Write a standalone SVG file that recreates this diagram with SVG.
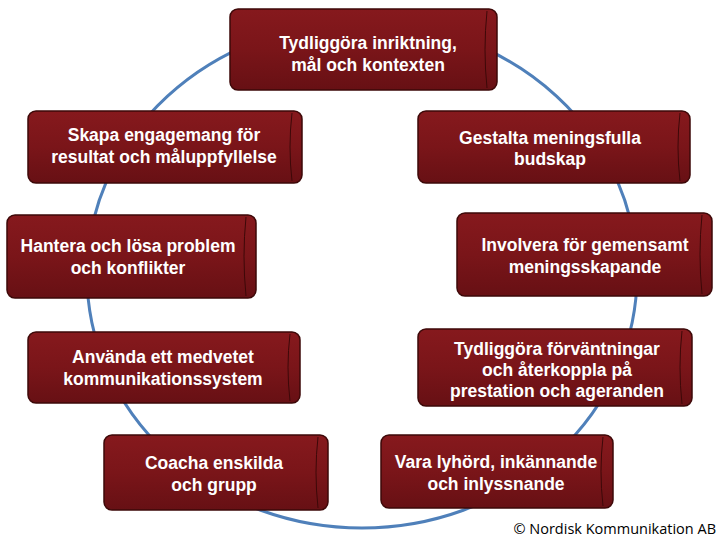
<svg xmlns="http://www.w3.org/2000/svg" width="720" height="540" viewBox="0 0 720 540">
<defs>
<linearGradient id="g" x1="0" y1="0" x2="0" y2="1">
<stop offset="0" stop-color="#86191d"/>
<stop offset="0.5" stop-color="#7a1519"/>
<stop offset="1" stop-color="#671014"/>
</linearGradient>
</defs>
<style>
.box{fill:url(#g);stroke:#3d0808;stroke-width:1.5}
.cap{fill:none;stroke:#3d0808;stroke-width:1}
.t{font-family:"Liberation Sans",Arial,sans-serif;font-weight:bold;font-size:17.5px;fill:#ffffff;text-anchor:middle}
.c{fill:none;stroke:#4f80ba;stroke-width:3}
</style>
<rect width="720" height="540" fill="#ffffff"/>
<g id="connectors">
<ellipse class="c" cx="362" cy="275" rx="275" ry="253"/>
</g>
<g id="n1">
<rect class="box" x="230" y="9" width="267" height="81" rx="8"/>
<path class="cap" d="M487 11 Q483 50 487 88"/>
<text class="t" x="368" y="49">Tydliggöra inriktning,</text>
<text class="t" x="368" y="71">mål och kontexten</text>
</g>
<g id="n2">
<rect class="box" x="28" y="111" width="274" height="72" rx="8"/>
<path class="cap" d="M292 113 Q288 147 292 181"/>
<text class="t" x="164" y="141">Skapa engagemang för</text>
<text class="t" x="164" y="163">resultat och måluppfyllelse</text>
</g>
<g id="n3">
<rect class="box" x="418" y="111" width="272" height="72" rx="8"/>
<path class="cap" d="M680 113 Q676 147 680 181"/>
<text class="t" x="550" y="144">Gestalta meningsfulla</text>
<text class="t" x="550" y="165">budskap</text>
</g>
<g id="n4">
<rect class="box" x="7" y="215" width="249" height="83" rx="8"/>
<path class="cap" d="M246 217 Q242 256 246 296"/>
<text class="t" x="128" y="252">Hantera och lösa problem</text>
<text class="t" x="128" y="274">och konflikter</text>
</g>
<g id="n5">
<rect class="box" x="457" y="213" width="255" height="83" rx="8"/>
<path class="cap" d="M702 215 Q698 254 702 294"/>
<text class="t" x="585" y="251">Involvera för gemensamt</text>
<text class="t" x="585" y="273">meningsskapande</text>
</g>
<g id="n6">
<rect class="box" x="28" y="332" width="272" height="71" rx="8"/>
<path class="cap" d="M290 334 Q286 367 290 401"/>
<text class="t" x="163" y="363">Använda ett medvetet</text>
<text class="t" x="163" y="385">kommunikationssystem</text>
</g>
<g id="n7">
<rect class="box" x="418" y="329" width="274" height="77" rx="8"/>
<path class="cap" d="M682 331 Q678 367 682 404"/>
<text class="t" x="557" y="355">Tydliggöra förväntningar</text>
<text class="t" x="557" y="376">och återkoppla på</text>
<text class="t" x="557" y="397">prestation och ageranden</text>
</g>
<g id="n8">
<rect class="box" x="104" y="435" width="224" height="75" rx="8"/>
<path class="cap" d="M318 437 Q314 472 318 508"/>
<text class="t" x="214" y="469">Coacha enskilda</text>
<text class="t" x="214" y="491">och grupp</text>
</g>
<g id="n9">
<rect class="box" x="381" y="435" width="232" height="73" rx="8"/>
<path class="cap" d="M603 437 Q599 471 603 506"/>
<text class="t" x="496" y="468">Vara lyhörd, inkännande</text>
<text class="t" x="496" y="490">och inlyssnande</text>
</g>
<text x="716" y="534" font-family="'Open Sans','Liberation Sans',sans-serif" font-size="14.5" fill="#000" text-anchor="end">© Nordisk Kommunikation AB</text>
</svg>
